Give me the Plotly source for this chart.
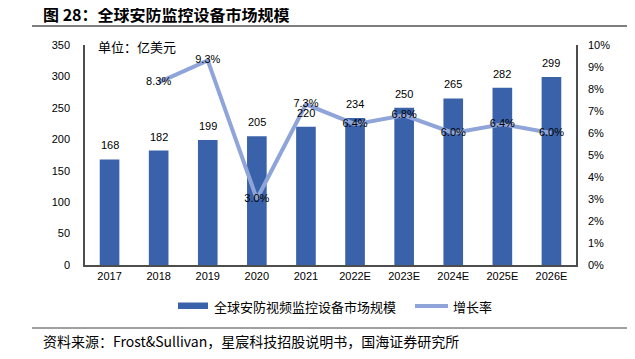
import plotly.graph_objects as go

years = ["2017", "2018", "2019", "2020", "2021", "2022E", "2023E", "2024E", "2025E", "2026E"]
market_size = [168, 182, 199, 205, 220, 234, 250, 265, 282, 299]
growth = [None, 8.3, 9.3, 3.0, 7.3, 6.4, 6.8, 6.0, 6.4, 6.0]
left_ticks = [0, 50, 100, 150, 200, 250, 300, 350]
right_ticks = [0, 1, 2, 3, 4, 5, 6, 7, 8, 9, 10]
bar_name = "全球安防视频监控设备市场规模"
line_name = "增长率"

BAR = "#3A62AA"
LINE = "#8FA5D9"
AXIS = "#4D4D4D"
FONT = "Liberation Sans, Arial, Noto Sans CJK SC, sans-serif"
CJK = "Noto Sans CJK SC, sans-serif"

# plot area spans 491 x 220 px (screen x 85..576, y 45..265)
W, H = 491.0, 220.0
def to_px(sx):
    return (sx - 85) / W
def to_py(sy):
    return (265 - sy) / H

fig = go.Figure()
fig.add_trace(go.Bar(
    x=years, y=market_size, name=bar_name,
    marker=dict(color=BAR, line=dict(width=0)),
))
fig.add_trace(go.Scatter(
    x=years, y=growth, name=line_name, yaxis="y2", mode="lines+text",
    line=dict(color=LINE, width=4),
    text=[None if g is None else f"{g:.1f}%" for g in growth],
    textposition="middle center",
    textfont=dict(size=11, color="#000", family=FONT), cliponaxis=False,
))

for i, v in enumerate(market_size):
    fig.add_annotation(x=i, y=v, xref="x", yref="y", text=str(v), showarrow=False,
                       yanchor="middle", yshift=14,
                       font=dict(size=11, color="#000", family=FONT))

fig.update_layout(
    width=635, height=359,
    margin=dict(l=77, r=67, t=37, b=102),
    paper_bgcolor="white", plot_bgcolor="white",
    bargap=0.6,
    showlegend=False,
    font=dict(family=FONT, size=11, color="#000"),
    xaxis=dict(type="category", categoryorder="array", categoryarray=years,
               range=[-0.5, len(years) - 0.5],
               showline=True, linecolor=AXIS, linewidth=1.5, ticks="",
               tickfont=dict(size=11), showgrid=False),
    yaxis=dict(range=[0, 350], tickvals=left_ticks, showline=True, linecolor=AXIS,
               linewidth=1.5, showgrid=False, zeroline=False, ticks="",
               tickfont=dict(size=11), ticklabelstandoff=11),
    yaxis2=dict(range=[0, 10], tickvals=right_ticks, ticktext=[f"{t}%" for t in right_ticks],
                overlaying="y", side="right", showline=True, linecolor=AXIS,
                linewidth=1.5, showgrid=False, zeroline=False, ticks="",
                tickfont=dict(size=11), ticklabelstandoff=8),
)

# title
fig.add_annotation(text="<b>图 28：全球安防监控设备市场规模</b>", xref="paper", yref="paper",
                   x=to_px(41), y=to_py(14), xanchor="left", yanchor="middle",
                   showarrow=False, font=dict(family=CJK, size=16, color="#000"))
fig.add_shape(type="line", xref="paper", yref="paper", x0=to_px(32), x1=to_px(632),
              y0=to_py(26), y1=to_py(26), line=dict(color="#7F7F7F", width=2))
# unit
fig.add_annotation(text="单位：亿美元", xref="paper", yref="paper", x=to_px(96), y=to_py(47),
                   xanchor="left", yanchor="middle", showarrow=False,
                   font=dict(family=CJK, size=13, color="#000"))
# legend
fig.add_shape(type="rect", xref="paper", yref="paper", x0=to_px(178), x1=to_px(208),
              y0=to_py(309), y1=to_py(302.5), line=dict(width=0), fillcolor=BAR)
fig.add_annotation(text=bar_name, xref="paper", yref="paper", x=to_px(212), y=to_py(306),
                   xanchor="left", yanchor="middle", showarrow=False,
                   font=dict(family=CJK, size=13, color="#000"))
fig.add_shape(type="line", xref="paper", yref="paper", x0=to_px(415), x1=to_px(448),
              y0=to_py(306), y1=to_py(306), line=dict(color=LINE, width=4))
fig.add_annotation(text=line_name, xref="paper", yref="paper", x=to_px(451), y=to_py(306),
                   xanchor="left", yanchor="middle", showarrow=False,
                   font=dict(family=CJK, size=13, color="#000"))
# source
fig.add_shape(type="line", xref="paper", yref="paper", x0=to_px(32), x1=to_px(632),
              y0=to_py(328), y1=to_py(328), line=dict(color="#404040", width=1))
fig.add_annotation(text="资料来源：Frost&Sullivan，星宸科技招股说明书，国海证券研究所",
                   xref="paper", yref="paper", x=to_px(41), y=to_py(341),
                   xanchor="left", yanchor="middle", showarrow=False,
                   font=dict(family=CJK, size=14, color="#000"))

fig.write_html("out.html")
